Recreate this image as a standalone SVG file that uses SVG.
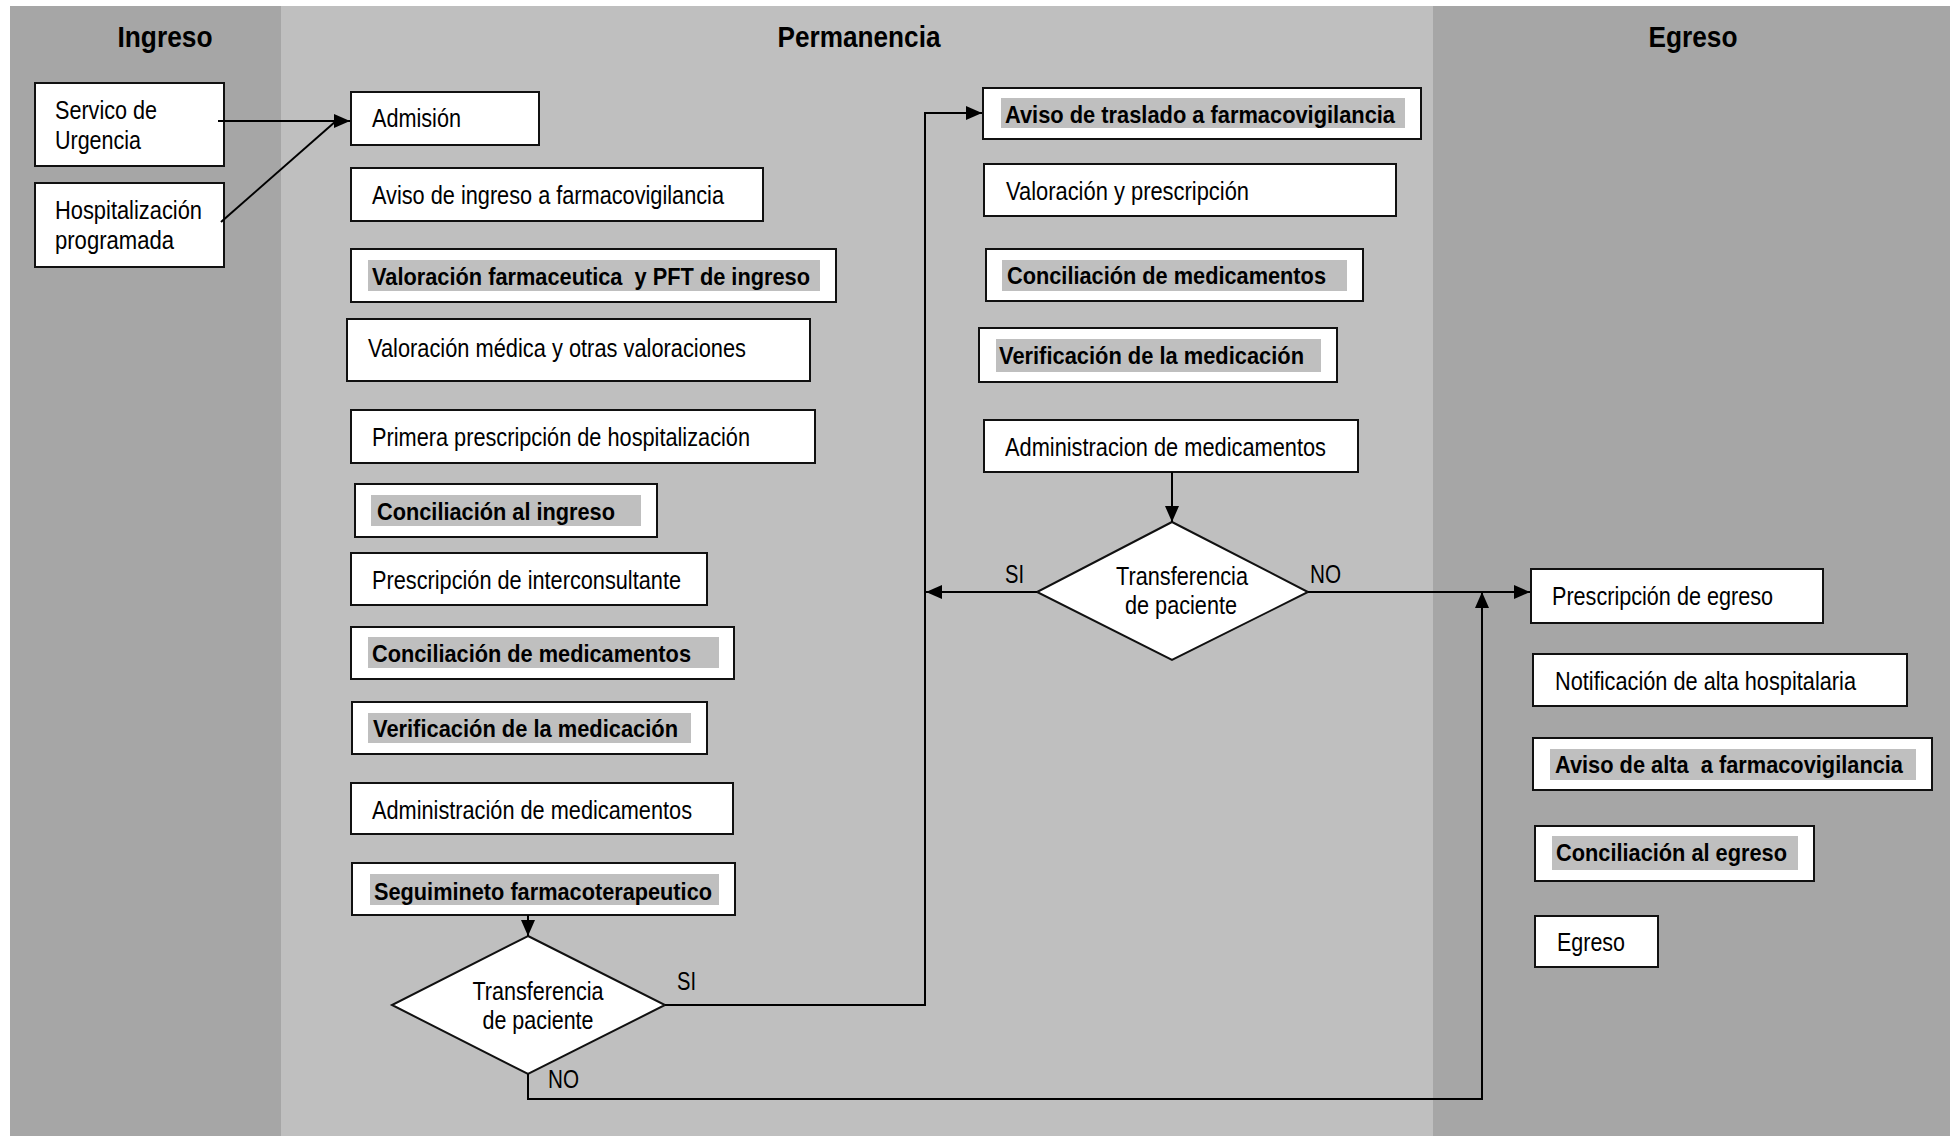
<svg xmlns="http://www.w3.org/2000/svg" width="1958" height="1136" viewBox="0 0 1958 1136">
<style>
.lane-dark{fill:#a6a6a6}
.lane-light{fill:#bfbfbf}
.box{fill:#ffffff;stroke:#111;stroke-width:2}
.hl{fill:#bfbfbf}
.dia{fill:#ffffff;stroke:#111;stroke-width:2}
.t{font-family:"Liberation Sans",Arial,sans-serif;font-size:25.5px;fill:#000}
.b{font-family:"Liberation Sans",Arial,sans-serif;font-size:24.5px;font-weight:bold;fill:#000}
.title{font-family:"Liberation Sans",Arial,sans-serif;font-size:29px;font-weight:bold;fill:#000;text-anchor:middle}
.mid{text-anchor:middle}
.con{fill:none;stroke:#000;stroke-width:2}
</style>
<defs>
<marker id="arr" markerUnits="userSpaceOnUse" markerWidth="16" markerHeight="14" refX="16" refY="7" orient="auto">
<path d="M0,0 L16,7 L0,14 Z" fill="#000"/>
</marker>
</defs>
<rect x="0" y="0" width="1958" height="1136" fill="#ffffff"/>
<g id="lanes">
<rect class="lane-dark" x="10" y="6" width="271" height="1130"/>
<rect class="lane-light" x="281" y="6" width="1152" height="1130"/>
<rect class="lane-dark" x="1433" y="6" width="517" height="1130"/>
<text class="title" x="165" y="47" textLength="95" lengthAdjust="spacingAndGlyphs">Ingreso</text>
<text class="title" x="859" y="47" textLength="163" lengthAdjust="spacingAndGlyphs">Permanencia</text>
<text class="title" x="1693" y="47" textLength="89" lengthAdjust="spacingAndGlyphs">Egreso</text>
</g>

<g id="n-servicio">
<rect class="box" x="35" y="83" width="189" height="83"/>
<text class="t" x="55" y="119" textLength="102" lengthAdjust="spacingAndGlyphs">Servico de</text>
<text class="t" x="55" y="149" textLength="86" lengthAdjust="spacingAndGlyphs">Urgencia</text>
</g>
<g id="n-hospitalizacion">
<rect class="box" x="35" y="183" width="189" height="84"/>
<text class="t" x="55" y="219" textLength="147" lengthAdjust="spacingAndGlyphs">Hospitalización</text>
<text class="t" x="55" y="249" textLength="119" lengthAdjust="spacingAndGlyphs">programada</text>
</g>

<g id="n-admision">
<rect class="box" x="351" y="92" width="188" height="53"/>
<text class="t" x="372" y="127" textLength="89" lengthAdjust="spacingAndGlyphs">Admisión</text>
</g>
<g id="n-aviso-ingreso">
<rect class="box" x="351" y="168" width="412" height="53"/>
<text class="t" x="372" y="204" textLength="352" lengthAdjust="spacingAndGlyphs">Aviso de ingreso a farmacovigilancia</text>
</g>
<g id="n-valoracion-farm">
<rect class="box" x="351" y="249" width="485" height="53"/>
<rect class="hl" x="368" y="260" width="452" height="31"/>
<text class="b" x="372" y="285" textLength="438" lengthAdjust="spacingAndGlyphs">Valoración farmaceutica &#160;y PFT de ingreso</text>
</g>
<g id="n-valoracion-medica">
<rect class="box" x="347" y="319" width="463" height="62"/>
<text class="t" x="368" y="357" textLength="378" lengthAdjust="spacingAndGlyphs">Valoración médica y otras valoraciones</text>
</g>
<g id="n-primera-prescripcion">
<rect class="box" x="351" y="410" width="464" height="53"/>
<text class="t" x="372" y="446" textLength="378" lengthAdjust="spacingAndGlyphs">Primera prescripción de hospitalización</text>
</g>
<g id="n-conciliacion-ingreso">
<rect class="box" x="355" y="484" width="302" height="53"/>
<rect class="hl" x="371" y="495" width="270" height="31"/>
<text class="b" x="377" y="520" textLength="238" lengthAdjust="spacingAndGlyphs">Conciliación al ingreso</text>
</g>
<g id="n-prescripcion-interconsultante">
<rect class="box" x="351" y="553" width="356" height="52"/>
<text class="t" x="372" y="589" textLength="309" lengthAdjust="spacingAndGlyphs">Prescripción de interconsultante</text>
</g>
<g id="n-conciliacion-med-1">
<rect class="box" x="351" y="627" width="383" height="52"/>
<rect class="hl" x="368" y="637" width="351" height="31"/>
<text class="b" x="372" y="662" textLength="319" lengthAdjust="spacingAndGlyphs">Conciliación de medicamentos</text>
</g>
<g id="n-verificacion-1">
<rect class="box" x="352" y="702" width="355" height="52"/>
<rect class="hl" x="368" y="713" width="323" height="30"/>
<text class="b" x="373" y="737" textLength="305" lengthAdjust="spacingAndGlyphs">Verificación de la medicación</text>
</g>
<g id="n-administracion-1">
<rect class="box" x="351" y="783" width="382" height="51"/>
<text class="t" x="372" y="819" textLength="320" lengthAdjust="spacingAndGlyphs">Administración de medicamentos</text>
</g>
<g id="n-seguimiento">
<rect class="box" x="352" y="863" width="383" height="52"/>
<rect class="hl" x="370" y="874" width="349" height="31"/>
<text class="b" x="374" y="900" textLength="338" lengthAdjust="spacingAndGlyphs">Seguimineto farmacoterapeutico</text>
</g>
<g id="n-transferencia-1">
<polygon class="dia" points="528,936 665,1005 528,1074 392,1005"/>
<text class="t mid" x="538" y="1000" textLength="131" lengthAdjust="spacingAndGlyphs">Transferencia</text>
<text class="t mid" x="538" y="1029" textLength="111" lengthAdjust="spacingAndGlyphs">de paciente</text>
</g>

<g id="n-aviso-traslado">
<rect class="box" x="983" y="88" width="438" height="51"/>
<rect class="hl" x="1001" y="98" width="404" height="30"/>
<text class="b" x="1005" y="123" textLength="390" lengthAdjust="spacingAndGlyphs">Aviso de traslado a farmacovigilancia</text>
</g>
<g id="n-valoracion-prescripcion">
<rect class="box" x="984" y="164" width="412" height="52"/>
<text class="t" x="1006" y="200" textLength="243" lengthAdjust="spacingAndGlyphs">Valoración y prescripción</text>
</g>
<g id="n-conciliacion-med-2">
<rect class="box" x="986" y="249" width="377" height="52"/>
<rect class="hl" x="1002" y="260" width="345" height="31"/>
<text class="b" x="1007" y="284" textLength="319" lengthAdjust="spacingAndGlyphs">Conciliación de medicamentos</text>
</g>
<g id="n-verificacion-2">
<rect class="box" x="979" y="328" width="358" height="54"/>
<rect class="hl" x="996" y="339" width="325" height="33"/>
<text class="b" x="999" y="364" textLength="305" lengthAdjust="spacingAndGlyphs">Verificación de la medicación</text>
</g>
<g id="n-administracion-2">
<rect class="box" x="984" y="420" width="374" height="52"/>
<text class="t" x="1005" y="456" textLength="321" lengthAdjust="spacingAndGlyphs">Administracion de medicamentos</text>
</g>
<g id="n-transferencia-2">
<polygon class="dia" points="1172,522 1308,592 1172,660 1037,592"/>
<text class="t mid" x="1182" y="585" textLength="132" lengthAdjust="spacingAndGlyphs">Transferencia</text>
<text class="t mid" x="1181" y="614" textLength="112" lengthAdjust="spacingAndGlyphs">de paciente</text>
</g>

<g id="n-prescripcion-egreso">
<rect class="box" x="1531" y="569" width="292" height="54"/>
<text class="t" x="1552" y="605" textLength="221" lengthAdjust="spacingAndGlyphs">Prescripción de egreso</text>
</g>
<g id="n-notificacion">
<rect class="box" x="1533" y="654" width="374" height="52"/>
<text class="t" x="1555" y="690" textLength="301" lengthAdjust="spacingAndGlyphs">Notificación de alta hospitalaria</text>
</g>
<g id="n-aviso-alta">
<rect class="box" x="1533" y="738" width="399" height="52"/>
<rect class="hl" x="1550" y="749" width="366" height="31"/>
<text class="b" x="1555" y="773" textLength="348" lengthAdjust="spacingAndGlyphs">Aviso de alta &#160;a farmacovigilancia</text>
</g>
<g id="n-conciliacion-egreso">
<rect class="box" x="1535" y="826" width="279" height="55"/>
<rect class="hl" x="1552" y="836" width="246" height="34"/>
<text class="b" x="1556" y="861" textLength="231" lengthAdjust="spacingAndGlyphs">Conciliación al egreso</text>
</g>
<g id="n-egreso">
<rect class="box" x="1535" y="916" width="123" height="51"/>
<text class="t" x="1557" y="951" textLength="68" lengthAdjust="spacingAndGlyphs">Egreso</text>
</g>

<g id="connectors">
<line class="con" x1="218" y1="121" x2="350" y2="121" marker-end="url(#arr)"/>
<line class="con" x1="221" y1="222" x2="336" y2="121" stroke-width="1.5"/>
<line class="con" x1="528" y1="915" x2="528" y2="936" marker-end="url(#arr)"/>
<polyline class="con" points="665,1005 925,1005 925,113 982,113" marker-end="url(#arr)"/>
<polyline class="con" points="528,1074 528,1099 1482,1099 1482,592" marker-end="url(#arr)"/>
<line class="con" x1="1172" y1="472" x2="1172" y2="522" marker-end="url(#arr)"/>
<line class="con" x1="1037" y1="592" x2="926" y2="592" marker-end="url(#arr)"/>
<line class="con" x1="1308" y1="592" x2="1530" y2="592" marker-end="url(#arr)"/>
<text class="t" x="677" y="990" textLength="19" lengthAdjust="spacingAndGlyphs">SI</text>
<text class="t" x="548" y="1088" textLength="31" lengthAdjust="spacingAndGlyphs">NO</text>
<text class="t" x="1005" y="583" textLength="19" lengthAdjust="spacingAndGlyphs">SI</text>
<text class="t" x="1310" y="583" textLength="31" lengthAdjust="spacingAndGlyphs">NO</text>
</g>
</svg>
